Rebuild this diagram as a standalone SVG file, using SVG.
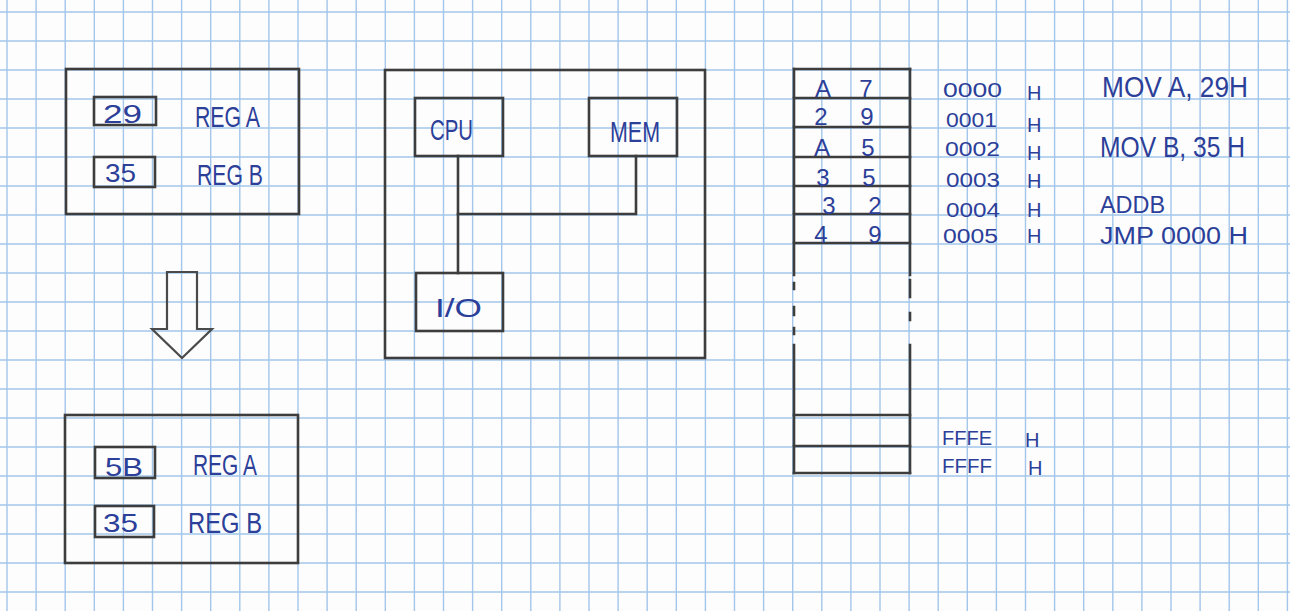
<svg xmlns="http://www.w3.org/2000/svg" width="1290" height="611" viewBox="0 0 1290 611">
<style>
.grid{fill:none;stroke:#a3c6ea;stroke-width:1.4}
.pen{fill:none;stroke:#3d3d3d;stroke-width:2.6;stroke-linejoin:miter;stroke-linecap:square}
.thin{fill:none;stroke:#4a4a4a;stroke-width:2.2}
.t{font-family:"Liberation Sans",Arial,sans-serif;fill:#2c3f99}
.reg{font-size:29px}
.num{font-size:26px}
.box{font-size:30px}
.cell{font-size:24px;text-anchor:middle}
.addr{font-size:20px}
.ins{font-size:29px}
.ins2{font-size:23px}
</style>
<rect width="1290" height="611" fill="#fdfdfd"/>
<g id="grid">
<path class="grid" d="M7 0V611M36.1 0V611M65.2 0V611M94.3 0V611M123.4 0V611M152.5 0V611M181.6 0V611M210.7 0V611M239.8 0V611M268.9 0V611M298 0V611M327.1 0V611M356.2 0V611M385.3 0V611M414.4 0V611M443.5 0V611M472.6 0V611M501.7 0V611M530.8 0V611M559.9 0V611M589 0V611M618.1 0V611M647.2 0V611M676.3 0V611M705.4 0V611M734.5 0V611M763.6 0V611M792.7 0V611M821.8 0V611M850.9 0V611M880 0V611M909.1 0V611M938.2 0V611M967.3 0V611M996.4 0V611M1025.5 0V611M1054.6 0V611M1083.7 0V611M1112.8 0V611M1141.9 0V611M1171 0V611M1200.1 0V611M1229.2 0V611M1258.3 0V611M1287.4 0V611"/>
<path class="grid" d="M0 12H1290M0 41H1290M0 70H1290M0 99H1290M0 128H1290M0 157H1290M0 186H1290M0 215H1290M0 244H1290M0 273H1290M0 302H1290M0 331H1290M0 360H1290M0 389H1290M0 418H1290M0 447H1290M0 476H1290M0 505H1290M0 534H1290M0 563H1290M0 592H1290"/>
</g>

<g id="regs-before">
<rect class="pen" x="66" y="69" width="233" height="145"/>
<rect class="pen" x="94" y="97" width="62" height="28"/>
<rect class="pen" x="94" y="157" width="61" height="30"/>
<text class="t num" x="103" y="123" textLength="39" lengthAdjust="spacingAndGlyphs">29</text>
<text class="t num" x="105" y="182" textLength="31" lengthAdjust="spacingAndGlyphs">35</text>
<text class="t reg" x="195" y="127" textLength="65" lengthAdjust="spacingAndGlyphs">REG A</text>
<text class="t reg" x="197" y="185" textLength="66" lengthAdjust="spacingAndGlyphs">REG B</text>
</g>

<g id="arrow">
<polygon class="thin" points="167,272 197,272 197,329 212,329 182,358 152,329 167,329"/>
</g>

<g id="regs-after">
<rect class="pen" x="65" y="415" width="233" height="148"/>
<rect class="pen" x="95" y="447" width="60" height="31"/>
<rect class="pen" x="95" y="506" width="59" height="31"/>
<text class="t num" x="105" y="476" textLength="38" lengthAdjust="spacingAndGlyphs">5B</text>
<text class="t num" x="103" y="532" textLength="35" lengthAdjust="spacingAndGlyphs">35</text>
<text class="t reg" x="193" y="475" textLength="64" lengthAdjust="spacingAndGlyphs">REG A</text>
<text class="t reg" x="188" y="533" textLength="74" lengthAdjust="spacingAndGlyphs">REG B</text>
</g>

<g id="system">
<rect class="pen" x="385" y="70" width="320" height="288"/>
</g>
<g id="cpu">
<rect class="pen" x="415" y="98" width="88" height="58"/>
<text class="t box" x="430" y="140" textLength="43" lengthAdjust="spacingAndGlyphs">CPU</text>
</g>
<g id="mem">
<rect class="pen" x="589" y="98" width="88" height="58"/>
<text class="t box" x="610" y="142" textLength="50" lengthAdjust="spacingAndGlyphs">MEM</text>
</g>
<g id="io">
<rect class="pen" x="416" y="273" width="87" height="58"/>
<text class="t num" x="435" y="317" textLength="47" lengthAdjust="spacingAndGlyphs">I/O</text>
</g>
<g id="connectors">
<path class="pen" d="M458 156V273"/>
<path class="pen" d="M458 214H636V156"/>
</g>

<g id="memory">
<path class="pen" d="M794 69V275M910 69V275M794 345V473M910 345V473"/>
<path class="pen" d="M794 283V289M794 307V315M794 328V334M910 280V297M910 313V320"/>
<path class="pen" d="M794 69H910M794 98H910M794 127H910M794 157H910M794 186H910M794 214H910M794 243H910M794 415H910M794 446H910M794 473H910"/>
<text class="t cell" x="823" y="97">A</text><text class="t cell" x="866" y="97">7</text>
<text class="t cell" x="821" y="125">2</text><text class="t cell" x="867" y="125">9</text>
<text class="t cell" x="822" y="156">A</text><text class="t cell" x="868" y="156">5</text>
<text class="t cell" x="823" y="186">3</text><text class="t cell" x="869" y="186">5</text>
<text class="t cell" x="829" y="214">3</text><text class="t cell" x="875" y="214">2</text>
<text class="t cell" x="821" y="243">4</text><text class="t cell" x="875" y="243">9</text>
</g>

<g id="addresses">
<text class="t addr" x="943" y="97" textLength="59" lengthAdjust="spacingAndGlyphs">0000</text>
<text class="t addr" x="946" y="127" textLength="51" lengthAdjust="spacingAndGlyphs">0001</text>
<text class="t addr" x="945" y="156" textLength="55" lengthAdjust="spacingAndGlyphs">0002</text>
<text class="t addr" x="946" y="187" textLength="54" lengthAdjust="spacingAndGlyphs">0003</text>
<text class="t addr" x="946" y="217" textLength="54" lengthAdjust="spacingAndGlyphs">0004</text>
<text class="t addr" x="943" y="243" textLength="55" lengthAdjust="spacingAndGlyphs">0005</text>
<text class="t addr" x="1027" y="100">H</text>
<text class="t addr" x="1027" y="132">H</text>
<text class="t addr" x="1027" y="160">H</text>
<text class="t addr" x="1027" y="188">H</text>
<text class="t addr" x="1027" y="217">H</text>
<text class="t addr" x="1027" y="243">H</text>
<text class="t addr" x="942" y="445" textLength="50" lengthAdjust="spacingAndGlyphs">FFFE</text>
<text class="t addr" x="942" y="473" textLength="50" lengthAdjust="spacingAndGlyphs">FFFF</text>
<text class="t addr" x="1025" y="447">H</text>
<text class="t addr" x="1028" y="475">H</text>
</g>

<g id="program">
<text class="t ins" x="1102" y="97" textLength="146" lengthAdjust="spacingAndGlyphs">MOV A, 29H</text>
<text class="t ins" x="1100" y="157" textLength="145" lengthAdjust="spacingAndGlyphs">MOV B, 35 H</text>
<text class="t ins2" x="1100" y="213" textLength="65" lengthAdjust="spacingAndGlyphs">ADDB</text>
<text class="t ins2" x="1100" y="244" textLength="148" lengthAdjust="spacingAndGlyphs">JMP 0000 H</text>
</g>
</svg>
